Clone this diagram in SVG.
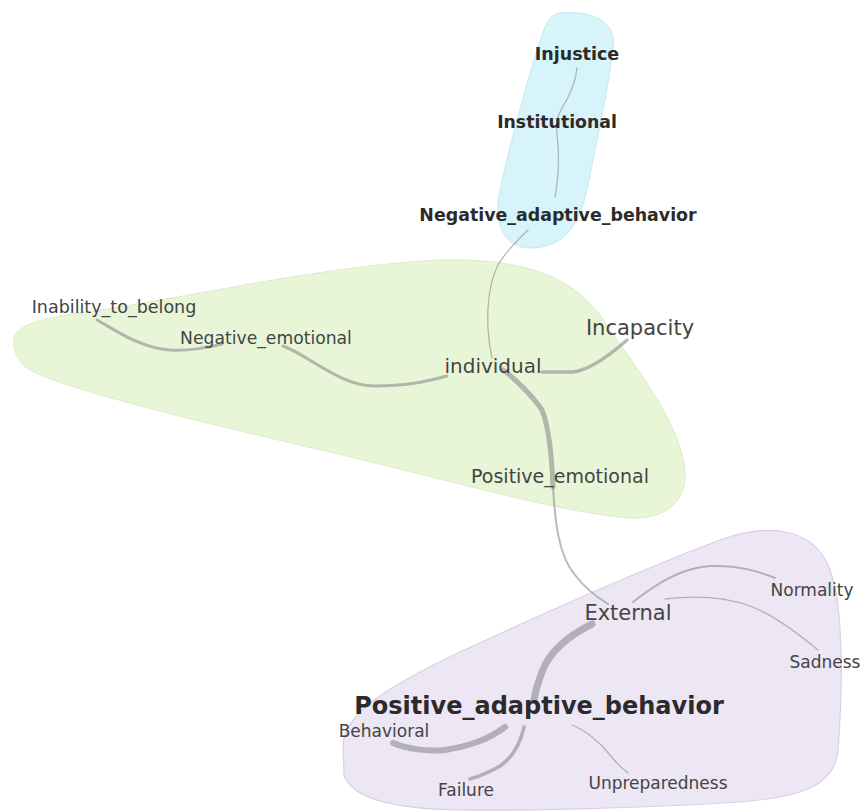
<svg xmlns="http://www.w3.org/2000/svg" width="862" height="812" viewBox="0 0 862 812">
<style>
.lbl{font-family:"DejaVu Sans",Verdana,sans-serif;fill:#444;text-anchor:middle}
.bold{font-weight:bold;fill:#2b2b2b}
.e{fill:none;stroke:#8c8c8c;stroke-opacity:0.6;stroke-linecap:round}
</style>
<rect width="862" height="812" fill="#ffffff"/>
<g id="cluster-blue"><path d="M 560 13 C 590 10, 618 20, 613 50 C 608 90, 595 150, 588 185 C 580 225, 565 248, 530 248 C 505 248, 494 225, 499 195 C 508 150, 530 70, 542 35 C 547 20, 552 14, 560 13 Z" fill="#d6f4fa" stroke="#c6eaf2" stroke-width="1"/></g>
<g id="cluster-green"><path d="M 14 345 C 10 325, 40 318, 100 310 C 200 295, 330 265, 440 260 C 520 258, 570 275, 600 315 C 630 360, 680 420, 685 470 C 688 505, 660 520, 630 518 C 560 512, 480 488, 330 452 C 200 422, 90 395, 40 375 C 20 367, 15 355, 14 345 Z" fill="#e8f6d7" stroke="#dcedc9" stroke-width="1"/></g>
<g id="cluster-purple"><path d="M 343 745 C 345 715, 380 690, 460 652 C 540 615, 640 570, 720 540 C 770 522, 815 528, 830 570 C 845 610, 842 700, 838 750 C 835 790, 790 798, 740 802 C 650 808, 520 811, 460 810 C 400 809, 352 800, 344 775 Z" fill="#ece6f5" stroke="#d9d0e6" stroke-width="1.2"/></g>
<g id="connectors">
<path class="e" stroke-width="1.3" d="M 577 68 C 576 80, 572 92, 562 108 C 556 118, 556 128, 557 134 C 559 150, 560 170, 555 197"/>
<path class="e" stroke-width="1.3" d="M 528 230 C 520 238, 505 252, 498 265 C 488 285, 484 320, 492 358"/>
<path class="e" stroke-width="3" d="M 97 320 C 115 330, 140 348, 170 350 C 190 351, 205 348, 222 344"/>
<path class="e" stroke-width="3" d="M 283 346 C 310 356, 340 386, 375 386 C 405 386, 425 382, 447 376"/>
<path class="e" stroke-width="3.5" d="M 542 372 L 573 372 C 590 370, 610 355, 627 340"/>
<path class="e" stroke-width="5" d="M 503 370 C 512 376, 532 395, 542 410 C 550 430, 552 460, 553 487"/>
<path class="e" stroke-width="2" d="M 553 487 C 555 520, 558 555, 575 575 C 585 588, 598 598, 608 604"/>
<path class="e" stroke-width="2" d="M 633 602 C 655 585, 680 568, 710 566 C 740 565, 760 572, 775 578"/>
<path class="e" stroke-width="1.3" d="M 665 599 C 690 596, 720 595, 750 606 C 775 615, 800 635, 818 650"/>
<path class="e" stroke-width="7" d="M 592 624 C 570 635, 550 650, 542 672 C 537 685, 535 694, 534 700"/>
<path class="e" stroke-width="6" d="M 505 727 C 490 738, 475 745, 445 750 C 425 752, 405 748, 393 743"/>
<path class="e" stroke-width="3.5" d="M 524 727 C 520 745, 512 758, 500 766 C 490 772, 480 776, 470 779"/>
<path class="e" stroke-width="1.3" d="M 572 725 C 585 730, 600 742, 610 755 C 618 765, 624 770, 628 773"/>
</g>
<g id="node-injustice"><text class="lbl bold" x="577" y="60" font-size="17.5">Injustice</text></g>
<g id="node-institutional"><text class="lbl bold" x="557" y="128" font-size="17.3">Institutional</text></g>
<g id="node-negative-adaptive-behavior"><text class="lbl bold" x="558" y="221" font-size="17.4">Negative_adaptive_behavior</text></g>
<g id="node-inability-to-belong"><text class="lbl" x="114" y="313" font-size="17.5">Inability_to_belong</text></g>
<g id="node-negative-emotional"><text class="lbl" x="266" y="344" font-size="17.2">Negative_emotional</text></g>
<g id="node-incapacity"><text class="lbl" x="640" y="335" font-size="21">Incapacity</text></g>
<g id="node-individual"><text class="lbl" x="493" y="373" font-size="20">individual</text></g>
<g id="node-positive-emotional"><text class="lbl" x="560" y="483" font-size="19">Positive_emotional</text></g>
<g id="node-external"><text class="lbl" x="628" y="620" font-size="21">External</text></g>
<g id="node-normality"><text class="lbl" x="812" y="596" font-size="17">Normality</text></g>
<g id="node-sadness"><text class="lbl" x="825" y="668" font-size="17">Sadness</text></g>
<g id="node-positive-adaptive-behavior"><text class="lbl bold" x="539" y="714" font-size="24">Positive_adaptive_behavior</text></g>
<g id="node-behavioral"><text class="lbl" x="384" y="737" font-size="17">Behavioral</text></g>
<g id="node-failure"><text class="lbl" x="466" y="796" font-size="17">Failure</text></g>
<g id="node-unpreparedness"><text class="lbl" x="658" y="789" font-size="17">Unpreparedness</text></g>
</svg>
